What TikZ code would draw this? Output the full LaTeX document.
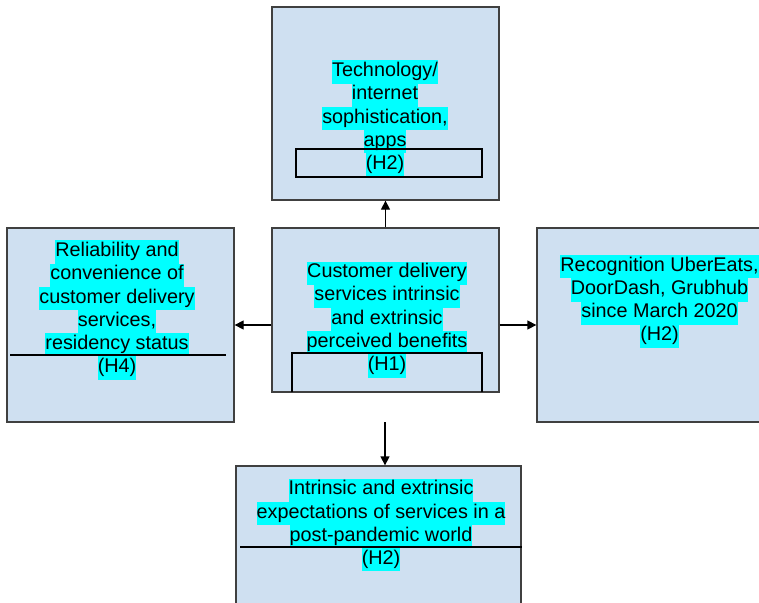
\documentclass[tikz,border=0pt]{standalone}
\usepackage{fontspec}
\setmainfont{Liberation Sans}
\definecolor{boxfill}{HTML}{CFE0F1}
\definecolor{boxline}{HTML}{404040}
\definecolor{hlcyan}{HTML}{00FFFF}
\newcommand\hlline[1]{{\setlength\fboxsep{0pt}\colorbox{hlcyan}{\rule[-6.96bp]{0pt}{23.2bp}#1}}}
\usetikzlibrary{arrows.meta}
\tikzset{
  box/.style={draw=boxline, fill=boxfill, line width=1.3bp, inner sep=0pt},
  txt/.style={inner sep=0pt, align=center, font=\fontsize{19.8bp}{23.2bp}\selectfont},
  arr/.style={line width=1.3bp, -{Triangle[length=9bp,width=9bp]}},
  rule/.style={line width=1.5bp, black}
}
\begin{document}
\begin{tikzpicture}[x=1bp, y=-1bp]
\useasboundingbox (0,0) rectangle (759,603);
\begin{scope}
\clip (0,0) rectangle (759,603);
% boxes
\node[box, minimum width=227bp, minimum height=193bp] (top) at (385.5,103.5) {};
\node[box, minimum width=227bp, minimum height=194bp] (left) at (120.5,325) {};
\node[box, minimum width=227bp, minimum height=164bp] (center) at (385.5,310) {};
\node[box, minimum width=250bp, minimum height=194bp] (right) at (662,325) {};
\node[box, minimum width=285bp, minimum height=160bp] (bottom) at (378.5,546) {};
% texts
\node[txt] (ttop) at (385,118.5) {\hlline{Technology/}\\\hlline{internet}\\\hlline{sophistication,}\\\hlline{apps}\\\hlline{(H2)}};
\node[txt] (tleft) at (117,310) {\hlline{Reliability and}\\\hlline{convenience of}\\\hlline{customer delivery}\\\hlline{services,}\\\hlline{residency status}\\\hlline{(H4)}};
\node[txt] (tcenter) at (387,319.5) {\hlline{Customer delivery}\\\hlline{services intrinsic}\\\hlline{and extrinsic}\\\hlline{perceived benefits}\\\hlline{(H1)}};
\node[txt] (tright) at (659.5,301.5) {\hlline{Recognition UberEats,}\\\hlline{DoorDash, Grubhub}\\\hlline{since March 2020}\\\hlline{(H2)}};
\node[txt] (tbottom) at (381,525) {\hlline{Intrinsic and extrinsic}\\\hlline{expectations of services in a}\\\hlline{post-pandemic world}\\\hlline{(H2)}};
% inner rules
\draw[rule] (296,149) rectangle (482,177);
\draw[rule] (10,355) -- (226,355);
\draw[rule] (240,547) -- (522,547);
\draw[rule] (292,392) -- (292,353) -- (482,353) -- (482,392);
% connectors
\coordinate (dstart) at (385,422);
\draw[arr] (center.north) -- (top.south);
\draw[arr] (center.west |- left.east) -- (left.east);
\draw[arr] (center.east |- right.west) -- (right.west);
\draw[arr] (dstart) -- (dstart |- bottom.north);
\end{scope}
\end{tikzpicture}
\end{document}
